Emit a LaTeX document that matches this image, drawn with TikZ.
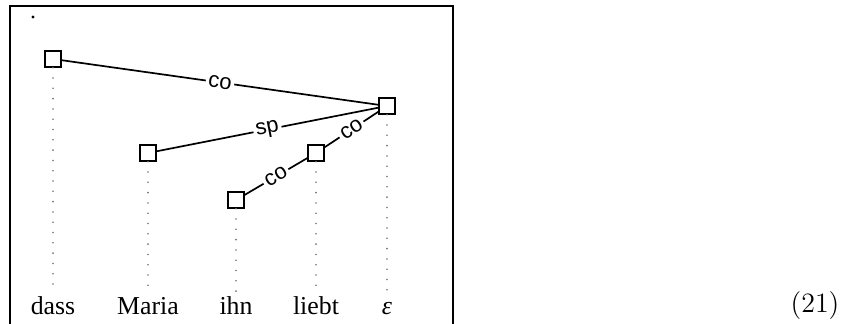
\documentclass[tikz,border=0pt]{standalone}
\usepackage{fontspec}
\newfontfamily\wordfont{Liberation Serif}
\newfontfamily\arcfont{Liberation Sans}
\tikzset{
  wordnode/.style={inner sep=0pt, anchor=base, text height=10.6pt,
                   font=\wordfont\fontsize{12.9}{15}\selectfont},
  headbox/.style={draw, line width=0.95pt, minimum size=7.8pt, inner sep=0pt, fill=white},
  arc/.style={line width=0.85pt},
  arclabel/.style={font=\arcfont\fontsize{11}{13}\selectfont, fill=white,
                   inner sep=1.3pt, sloped, midway},
  proj/.style={black!55, line width=0.9pt, line cap=round, dash pattern=on 0pt off 5.15pt},
}

\begin{document}
\begin{tikzpicture}[x=0.5pt, y=-0.5pt]
    \useasboundingbox (0,0) rectangle (853,324);
    % frame
    \draw[line width=1pt] (10,324) -- (10,6) -- (453,6) -- (453,324);
    \fill (33,17) circle (0.8pt);
    % words
    \node[wordnode] (w1) at (53,315) {dass};
    \node[wordnode] (w2) at (148,315) {Maria};
    \node[wordnode] (w3) at (236,315) {ihn};
    \node[wordnode] (w4) at (316,315) {liebt};
    \node[wordnode] (w5) at (387,315) {\itshape ε};
    % heads
    \node[headbox] (b1) at (53,59) {};
    \node[headbox] (b2) at (148,153) {};
    \node[headbox] (b3) at (236,200) {};
    \node[headbox] (b4) at (316,153) {};
    \node[headbox] (b5) at (387,106) {};
    % projection lines
    \foreach \i in {1,...,5}
      \draw[proj] (b\i.south) -- (w\i.north);
    % dependencies
    \draw[arc] (b1) -- node[arclabel] {co} (b5);
    \draw[arc] (b2) -- node[arclabel] {sp} (b5);
    \draw[arc] (b4) -- node[arclabel] {co} (b5);
    \draw[arc] (b3) -- node[arclabel] {co} (b4);
    % number
    \node[anchor=base, font=\fontsize{14}{17}\selectfont] (eqno) at (815,313) {(21)};
\end{tikzpicture}
\end{document}
